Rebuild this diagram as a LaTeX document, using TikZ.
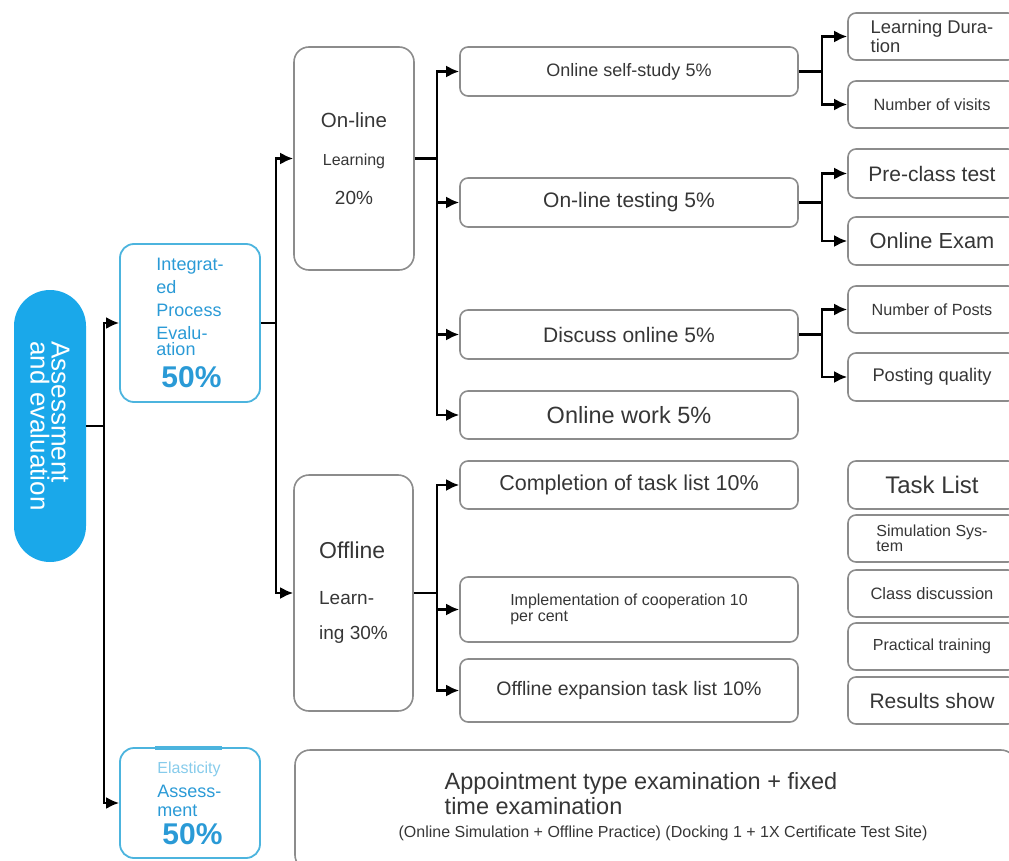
\documentclass[tikz,border=0pt]{standalone}
\usepackage{fontspec}
\setmainfont{Liberation Sans}
\usetikzlibrary{arrows.meta,calc}
\definecolor{pillblue}{HTML}{1AA8EA}
\definecolor{txtblue}{HTML}{2A9AD6}
\definecolor{lineblue}{HTML}{4CB4DE}
\definecolor{paleblue}{HTML}{86CBEB}
\definecolor{boxgray}{HTML}{8C8C8C}
\definecolor{txtgray}{HTML}{363636}
\newcommand{\fsz}[2]{\fontsize{#1}{#2}\selectfont}
\tikzset{box/.style={draw=boxgray, line width=1.6pt, rounded corners=8pt, text=txtgray, inner sep=0pt},
  bigbox/.style={box, rounded corners=15pt},
  leaf/.style={box, minimum width=168pt},
  midbox/.style={box, minimum width=338pt},
  bluebox/.style={draw=lineblue, line width=1.8pt, rounded corners=14pt, text=txtblue, inner sep=0pt,
    minimum width=140pt},
  conn/.style={line width=2.4pt},
  arr/.style={conn, -{Latex[length=13pt,width=12pt]}}}

\begin{document}
\begin{tikzpicture}[x=1pt, y=-1pt]
\useasboundingbox (0,0) rectangle (1009,861);

% root
\node[fill=pillblue, rounded corners=36pt, minimum width=72pt, minimum height=272pt] (pill) at (50,426) {};
\node[rotate=-90, text=white, align=left, font=\fsz{26}{21}] (root) at (pill.center) {Assessment\\and evaluation};

% second level
\node[bluebox, minimum height=158pt, align=left, font=\fsz{18}{23}] (integ) at (190,323)
  {Integrat-\\ed\\Process\\Evalu-\\[-7pt]ation\\[9pt]{\fsz{30}{30}\bfseries\hspace*{5pt}50\%}};
\node[bluebox, minimum height=110pt, align=left, font=\fsz{18}{19}] (elast) at (190,803)
  {{\fsz{16}{16}\color{paleblue}Elasticity}\\[5pt]Assess-\\ment\\[6pt]{\fsz{30}{30}\bfseries\hspace*{5pt}50\%}};
\draw[lineblue, line width=3.5pt] ($(elast.north)+(-35,1)$) -- ($(elast.north)+(32,1)$);

% learning blocks
\node[bigbox, minimum width=120pt, minimum height=223pt, align=center] (online) at (354,158.5)
  {{\fsz{20.5}{22}On-line}\\[26pt]{\fsz{16}{18}Learning}\\[22pt]{\fsz{19}{20}20\%}};
\node[bigbox, minimum width=119pt, minimum height=236pt, align=left, font=\fsz{19}{35}] (offline) at (353.5,593)
  {{\fsz{23}{24}Offline}\\[11pt]Learn-\\ing 30\%};

% third level
\node[midbox, minimum height=49pt, font=\fsz{18}{20}] (self) at (629,71.5) {Online self-study 5\%};
\node[midbox, minimum height=49pt, font=\fsz{21}{22}] (test) at (629,202.5) {On-line testing 5\%};
\node[midbox, minimum height=49pt, font=\fsz{21}{22}] (disc) at (629,334.5) {Discuss online 5\%};
\node[midbox, minimum height=48pt, font=\fsz{23.5}{24}] (work) at (629,415) {Online work 5\%};
\node[midbox, minimum height=48pt, font=\fsz{21.5}{22}] (compl) at (629,485) {Completion of task list 10\%};
\node[midbox, minimum height=65pt, align=left, font=\fsz{16}{16}] (impl) at (629,609.5)
  {Implementation of cooperation 10\\per cent};
\node[midbox, minimum height=63pt, font=\fsz{19.5}{20}] (offexp) at (629,690.5) {Offline expansion task list 10\%};

% leaves
\node[leaf, minimum height=47pt, align=left, font=\fsz{18.4}{17}] (dur) at (932,36.5) {Learning Dura-\\tion};
\node[leaf, minimum height=47pt, font=\fsz{16.3}{17}] (visits) at (932,104.5) {Number of visits};
\node[leaf, minimum height=49pt, font=\fsz{21}{22}] (pre) at (932,173.5) {Pre-class test};
\node[leaf, minimum height=48pt, font=\fsz{21.8}{22}] (exam) at (932,241) {Online Exam};
\node[leaf, minimum height=47pt, font=\fsz{16.2}{17}] (posts) at (932,309.5) {Number of Posts};
\node[leaf, minimum height=48pt, font=\fsz{18.3}{19}] (qual) at (932,377) {Posting quality};
\node[leaf, minimum height=48pt, font=\fsz{24}{24}] (task) at (932,485) {Task List};
\node[leaf, minimum height=47pt, align=left, font=\fsz{16}{15}] (sim) at (932,538.5) {Simulation Sys-\\tem};
\node[leaf, minimum height=47pt, font=\fsz{16.5}{17}] (cls) at (932,593.5) {Class discussion};
\node[leaf, minimum height=47pt, font=\fsz{16}{17}] (prac) at (932,646.5) {Practical training};
\node[leaf, minimum height=47pt, font=\fsz{21}{22}] (res) at (932,700.5) {Results show};

% fixed-time exam
\node[bigbox, minimum width=721pt, minimum height=120pt] (exambox) at (655.5,810) {};
\node[text=txtgray, align=left, font=\fsz{23.5}{25}] (appt) at (641,794)
  {Appointment type examination + fixed\\time examination};
\node[text=txtgray, font=\fsz{16}{17}] (site) at (663,833)
  {(Online Simulation + Offline Practice) (Docking 1 + 1X Certificate Test Site)};

% connectors
\coordinate (j0) at (104,426);
\coordinate (j1) at (276,323);
\coordinate (j2) at (437,158.5);
\coordinate (j3) at (437,593);
\coordinate (j4) at (822,71.5);
\coordinate (j5) at (822,202.5);
\coordinate (j6) at (822,334.5);

\draw[conn] (pill.east) -- (j0);
\draw[arr] (j0) |- (integ.west);
\draw[arr] (j0) |- (elast.west);
\draw[conn] (integ.east) -- (j1);
\draw[arr] (j1) |- (online.west);
\draw[arr] (j1) |- (offline.west);
\draw[conn] (online.east) -- (j2);
\foreach \t in {self,test,disc,work} \draw[arr] (j2) |- (\t.west);
\draw[conn] (offline.east) -- (j3);
\foreach \t in {compl,impl,offexp} \draw[arr] (j3) |- (\t.west);
\draw[conn] (self.east) -- (j4);
\draw[arr] (j4) |- (dur.west);
\draw[arr] (j4) |- (visits.west);
\draw[conn] (test.east) -- (j5);
\draw[arr] (j5) |- (pre.west);
\draw[arr] (j5) |- (exam.west);
\draw[conn] (disc.east) -- (j6);
\draw[arr] (j6) |- (posts.west);
\draw[arr] (j6) |- (qual.west);

\end{tikzpicture}
\end{document}
